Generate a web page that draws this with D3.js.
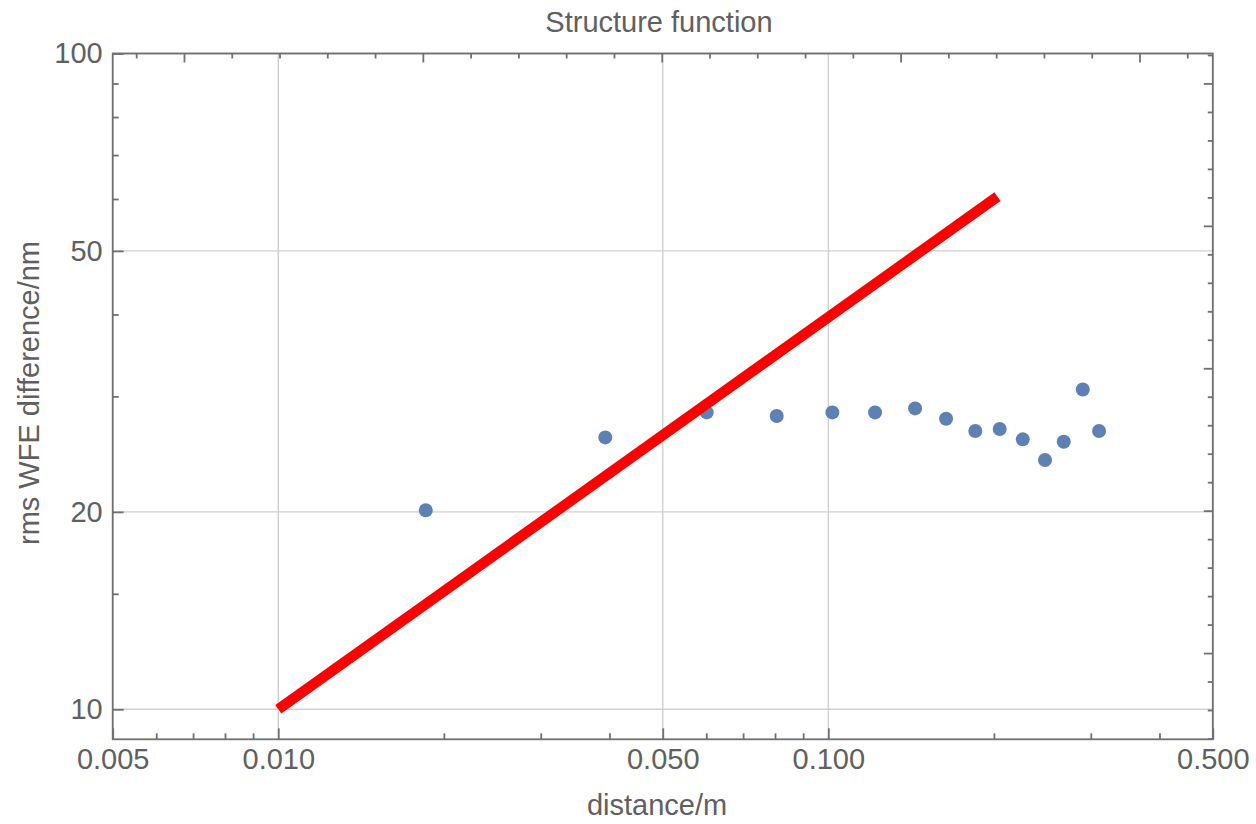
<!DOCTYPE html>
<html>
<head>
<meta charset="utf-8">
<script src="https://cdn.jsdelivr.net/npm/d3@7"></script>
<style>
  html, body { margin: 0; padding: 0; background: #fff; }
  svg { display: block; }
  text { font-family: "Liberation Sans", Arial, sans-serif; }
</style>
</head>
<body>
<svg id="chart" width="1256" height="824"></svg>
<script>
// ---- data ----
const distance = [0.01854, 0.03931, 0.0601, 0.08058, 0.1017, 0.1216, 0.1438, 0.1637, 0.185, 0.2049, 0.2257, 0.2477, 0.2679, 0.2901, 0.3106];
const rmsWFE   = [20.12, 25.98, 28.36, 28.0, 28.36, 28.36, 28.76, 27.73, 26.57, 26.75, 25.80, 23.99, 25.58, 30.74, 26.57];
const fitDistance = [0.01, 0.203];
const fitRms      = [10, 60.5];

const xMajorTicks = [0.005, 0.01, 0.05, 0.1, 0.5];
const xTickLabels = ["0.005", "0.010", "0.050", "0.100", "0.500"];
const xMinorTicks = [0.006, 0.007, 0.008, 0.009, 0.02, 0.03, 0.04, 0.06, 0.07, 0.08, 0.09, 0.2, 0.3, 0.4];
const yMajorTicks = [10, 20, 50, 100];
const yTickLabels = ["10", "20", "50", "100"];
const yMinorTicks = [15, 30, 40, 60, 70, 80, 90];
// unlabeled top/right frame ticks (natural-log spaced)
const topLnMajor = [-5, -4, -3, -2, -1];
const topLnMinor = [-5.2, -4.8, -4.6, -4.4, -4.2, -3.8, -3.6, -3.4, -3.2, -2.8, -2.6, -2.4, -2.2, -1.8, -1.6, -1.4, -1.2, -0.8];
const rightLnMajor = [2.5, 3.0, 3.5, 4.0, 4.5];
const rightLnMinor = [2.2, 2.3, 2.4, 2.6, 2.7, 2.8, 2.9, 3.1, 3.2, 3.3, 3.4, 3.6, 3.7, 3.8, 3.9, 4.1, 4.2, 4.3, 4.4, 4.6];

const titleText = "Structure function";
const xLabel = "distance/m";
const yLabel = "rms WFE difference/nm";

// ---- layout ----
const L = 112.7, R = 1212.8, T = 53.5, B = 739.3;
const FRAME = "#707070", GRID = "#d0d0d0", TEXT = "#606060";
const FS = 29;

const svg = d3.select("#chart");
svg.append("rect").attr("width", 1256).attr("height", 824).attr("fill", "#fff");

const x = d3.scaleLog().domain([0.005, 0.5]).range([L, R]);
const y = d3.scaleLog().domain([9, 100]).range([B, T]);

// gridlines
const grid = svg.append("g");
grid.selectAll("line.gx").data(xMajorTicks).join("line")
  .attr("x1", d => x(d)).attr("x2", d => x(d)).attr("y1", T).attr("y2", B)
  .attr("stroke", GRID).attr("stroke-width", 1.4);
grid.selectAll("line.gy").data(yMajorTicks).join("line")
  .attr("y1", d => y(d)).attr("y2", d => y(d)).attr("x1", L).attr("x2", R)
  .attr("stroke", GRID).attr("stroke-width", 1.4);

// points
svg.append("g").selectAll("circle").data(distance).join("circle")
  .attr("cx", d => x(d)).attr("cy", (d, i) => y(rmsWFE[i]))
  .attr("r", 7).attr("fill", "#5E81B5");

// fit line
const line = d3.line().x(d => x(d[0])).y(d => y(d[1]));
svg.append("path").datum(fitDistance.map((d, i) => [d, fitRms[i]]))
  .attr("d", line).attr("fill", "none").attr("stroke", "#ff0000")
  .attr("stroke-width", 10.5).attr("stroke-linecap", "butt");

// axes
function styleAxis(g) {
  g.select(".domain").remove();
  g.selectAll(".tick line").attr("stroke", FRAME).attr("stroke-width", 1.8);
  g.selectAll(".tick text").attr("fill", TEXT).attr("font-size", FS)
    .attr("font-family", '"Liberation Sans", Arial, sans-serif');
}
// bottom
svg.append("g").attr("transform", `translate(0,${B})`)
  .call(d3.axisBottom(x).tickValues(xMajorTicks).tickFormat((d, i) => xTickLabels[i])
    .tickSizeInner(-11).tickSizeOuter(0).tickPadding(9))
  .call(styleAxis);
svg.append("g").attr("transform", `translate(0,${B})`)
  .call(d3.axisBottom(x).tickValues(xMinorTicks).tickFormat("").tickSizeInner(-6).tickSizeOuter(0))
  .call(styleAxis);
// left
svg.append("g").attr("transform", `translate(${L},0)`)
  .call(d3.axisLeft(y).tickValues(yMajorTicks).tickFormat((d, i) => yTickLabels[i])
    .tickSizeInner(-11).tickSizeOuter(0).tickPadding(10))
  .call(styleAxis);
svg.append("g").attr("transform", `translate(${L},0)`)
  .call(d3.axisLeft(y).tickValues(yMinorTicks).tickFormat("").tickSizeInner(-6).tickSizeOuter(0))
  .call(styleAxis);
// top (ln-spaced, unlabeled)
const xTop = d3.scaleLinear().domain([Math.log(0.005), Math.log(0.5)]).range([L, R]);
svg.append("g").attr("transform", `translate(0,${T})`)
  .call(d3.axisTop(xTop).tickValues(topLnMajor).tickFormat("").tickSizeInner(-9).tickSizeOuter(0))
  .call(styleAxis);
svg.append("g").attr("transform", `translate(0,${T})`)
  .call(d3.axisTop(xTop).tickValues(topLnMinor).tickFormat("").tickSizeInner(-5).tickSizeOuter(0))
  .call(styleAxis);
// right (ln-spaced, unlabeled)
const yRight = d3.scaleLinear().domain([Math.log(9), Math.log(100)]).range([B, T]);
svg.append("g").attr("transform", `translate(${R},0)`)
  .call(d3.axisRight(yRight).tickValues(rightLnMajor).tickFormat("").tickSizeInner(-9).tickSizeOuter(0))
  .call(styleAxis);
svg.append("g").attr("transform", `translate(${R},0)`)
  .call(d3.axisRight(yRight).tickValues(rightLnMinor).tickFormat("").tickSizeInner(-5).tickSizeOuter(0))
  .call(styleAxis);

// frame
svg.append("rect").attr("x", L).attr("y", T).attr("width", R - L).attr("height", B - T)
  .attr("fill", "none").attr("stroke", FRAME).attr("stroke-width", 1.8);

// titles
svg.append("text").attr("x", 659).attr("y", 32).attr("text-anchor", "middle")
  .attr("font-size", FS).attr("fill", TEXT).text(titleText);
svg.append("text").attr("x", 657).attr("y", 815).attr("text-anchor", "middle")
  .attr("font-size", FS).attr("fill", TEXT).text(xLabel);
svg.append("text").attr("transform", `translate(39,${393}) rotate(-90)`).attr("text-anchor", "middle")
  .attr("font-size", FS).attr("fill", TEXT).text(yLabel);
</script>
</body>
</html>
